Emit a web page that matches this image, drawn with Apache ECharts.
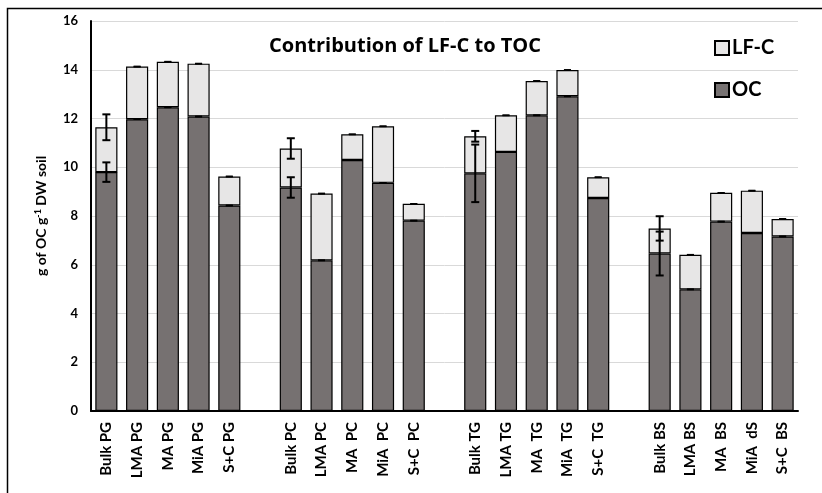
<!DOCTYPE html>
<html>
<head>
<meta charset="utf-8">
<style>
  html, body { margin: 0; padding: 0; background: #fff; }
  #chart { width: 822px; height: 493px; }
</style>
<script src="https://cdn.jsdelivr.net/npm/echarts@6/dist/echarts.min.js"></script>
</head>
<body>
<div id="chart"></div>
<script>
// Fractions per land use; blank entries are spacers between groups
const categories = [
  'Bulk PG', 'LMA PG', 'MA PG', 'MiA PG', 'S+C PG', '',
  'Bulk PC', 'LMA PC', 'MA  PC', 'MiA  PC', 'S+C  PC', '',
  'Bulk TG', 'LMA TG', 'MA  TG', 'MiA  TG', 'S+C  TG', '',
  'Bulk BS', 'LMA BS', 'MA  BS', 'MiA  dS', 'S+C  BS'
];

// Organic carbon (g OC per g DW soil)
const ocValues = [
  9.80, 11.97, 12.46, 12.08, 8.43, '-',
  9.17, 6.18, 10.30, 9.36, 7.81, '-',
  9.75, 10.63, 12.13, 12.91, 8.74, '-',
  6.46, 4.99, 7.77, 7.30, 7.16
];

// Light fraction carbon stacked on top
const lfcValues = [
  1.84, 2.16, 1.87, 2.17, 1.19, '-',
  1.60, 2.74, 1.05, 2.32, 0.69, '-',
  1.52, 1.50, 1.41, 1.08, 0.85, '-',
  1.03, 1.42, 1.18, 1.74, 0.72
];

// Error bars (half-range) for each segment top
const ocErrors = [
  0.40, 0, 0, 0, 0, '-',
  0.42, 0, 0, 0, 0, '-',
  1.18, 0, 0, 0, 0, '-',
  0.90, 0, 0, 0, 0
];
const lfcErrors = [
  0.53, 0, 0, 0, 0, '-',
  0.42, 0, 0, 0, 0, '-',
  0.22, 0, 0, 0, 0, '-',
  0.50, 0, 0, 0, 0
];

const yTicks = { min: 0, max: 16, interval: 2 };

const ocColor = '#767171';
const lfcColor = '#e7e6e6';

function errorData(centres, errs) {
  const out = [];
  centres.forEach((c, i) => {
    if (c === '-' || errs[i] === '-') return;
    out.push([i, c, errs[i]]);
  });
  return out;
}

const totals = ocValues.map((v, i) => v === '-' ? '-' : v + lfcValues[i]);

function renderErrorBar(params, api) {
  const idx = api.value(0);
  const c = api.value(1);
  const e = api.value(2);
  const hi = api.coord([idx, c + e]);
  const lo = api.coord([idx, c - e]);
  const half = e > 0 ? 4 : 3.5;
  const style = { stroke: '#000', lineWidth: e > 0 ? 2 : 1.6 };
  const children = [
    { type: 'line', shape: { x1: hi[0] - half, y1: hi[1], x2: hi[0] + half, y2: hi[1] }, style },
    { type: 'line', shape: { x1: lo[0] - half, y1: lo[1], x2: lo[0] + half, y2: lo[1] }, style }
  ];
  if (e > 0) {
    children.push({ type: 'line', shape: { x1: hi[0], y1: hi[1], x2: lo[0], y2: lo[1] }, style });
  }
  return { type: 'group', children };
}

const font = 'Lato, "Open Sans", sans-serif';

const chart = echarts.init(document.getElementById('chart'), null, { renderer: 'canvas' });

chart.setOption({
  animation: false,
  backgroundColor: '#fff',
  textStyle: { fontFamily: font },
  title: {
    text: 'Contribution of LF-C to TOC',
    left: 400,
    top: 31,
    textAlign: 'center',
    textStyle: { fontFamily: '"Open Sans", sans-serif', fontWeight: 'bold', fontSize: 20, color: '#000' }
  },
  legend: {
    orient: 'vertical',
    left: 709,
    top: 33,
    itemWidth: 14,
    itemHeight: 14,
    itemGap: 22,
    icon: 'rect',
    data: ['LF-C', 'OC'],
    textStyle: { fontFamily: font, fontWeight: 'bold', fontSize: 20, color: '#000', padding: [0, 0, 0, -2] }
  },
  grid: { left: 91, right: 24, top: 21, bottom: 82, containLabel: false },
  xAxis: {
    type: 'category',
    data: categories,
    axisLine: { show: true, lineStyle: { color: '#000', width: 2 } },
    axisTick: { show: false },
    axisLabel: {
      rotate: 90,
      interval: 0,
      margin: 11,
      fontFamily: font,
      fontWeight: 'bold',
      fontSize: 15,
      color: '#000'
    }
  },
  yAxis: {
    type: 'value',
    min: yTicks.min,
    max: yTicks.max,
    interval: yTicks.interval,
    name: 'g of OC g{sup|-1} DW soil',
    nameLocation: 'middle',
    nameRotate: 90,
    nameGap: 42,
    nameTextStyle: {
      fontFamily: font,
      fontWeight: 'bold',
      fontSize: 14,
      color: '#000',
      rich: {
        sup: { fontFamily: font, fontWeight: 'bold', fontSize: 9, verticalAlign: 'top', padding: [0, 0, 6, 0], color: '#000' }
      }
    },
    axisLine: { show: true, lineStyle: { color: '#000', width: 2 } },
    axisTick: { show: false },
    axisLabel: { margin: 13, fontFamily: font, fontWeight: 'bold', fontSize: 13, color: '#000' },
    splitLine: { show: true, lineStyle: { color: '#d9d9d9', width: 1 } }
  },
  series: [
    {
      name: 'OC',
      type: 'bar',
      stack: 'toc',
      barWidth: '72%',
      data: ocValues,
      itemStyle: { color: ocColor, borderColor: '#000', borderWidth: 1.2 }
    },
    {
      name: 'LF-C',
      type: 'bar',
      stack: 'toc',
      barWidth: '72%',
      data: lfcValues,
      itemStyle: { color: lfcColor, borderColor: '#000', borderWidth: 1.2 }
    },
    {
      name: 'OC error',
      type: 'custom',
      renderItem: renderErrorBar,
      data: errorData(ocValues, ocErrors),
      encode: { x: 0, y: 1 },
      z: 10
    },
    {
      name: 'LF-C error',
      type: 'custom',
      renderItem: renderErrorBar,
      data: errorData(totals, lfcErrors),
      encode: { x: 0, y: 1 },
      z: 10
    }
  ],
  graphic: [
    {
      type: 'rect',
      shape: { x: 7.5, y: 8.5, width: 900, height: 600 },
      style: { fill: 'none', stroke: '#000', lineWidth: 1.5 },
      silent: true
    }
  ]
});
</script>
</body>
</html>
